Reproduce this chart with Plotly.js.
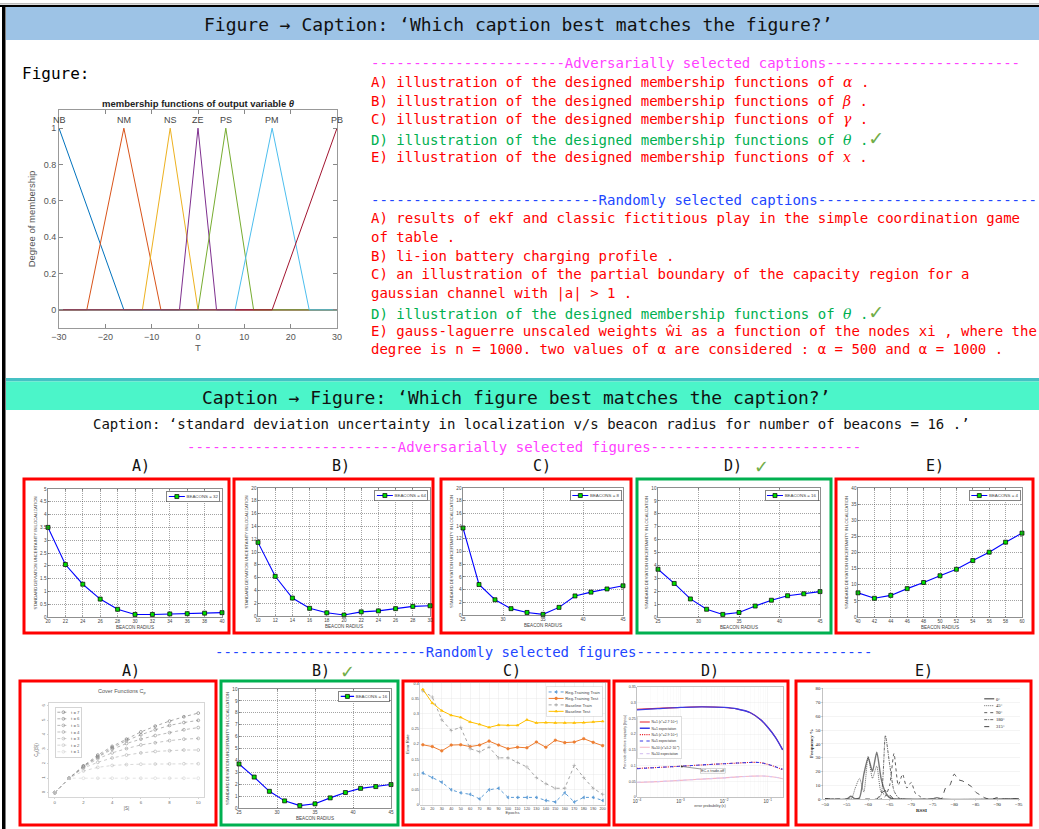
<!DOCTYPE html>
<html><head><meta charset="utf-8">
<script src="https://cdn.plot.ly/plotly-3.0.1.min.js"></script>
<style>html,body{margin:0;padding:0;background:#fff;overflow:hidden}#wrap{position:relative;width:1039px;height:829px}#main{position:absolute;left:0;top:0;width:1039px;height:829px}</style>
</head><body><div id="wrap"><div id="main"></div></div>
<script>
// ---------------- DATA ----------------
// Top figure: membership functions of output variable theta
const mfNames = ['NB','NM','NS','ZE','PS','PM','PB'];
const mfPeaks = [-30,-16,-6,0,6,16,30];
const mfX = [[-30,-16,30],[-30,-24,-16,-8,30],[-30,-12,-6,0,30],[-30,-4,0,4,30],[-30,0,6,12,30],[-30,8,16,24,30],[-30,16,30]];
const mfY = [[1,0,0],[0,0,1,0,0],[0,0,1,0,0],[0,0,1,0,0],[0,0,1,0,0],[0,0,1,0,0],[0,0,1]];

// Captions
const headerTop = 'Figure → Caption: ‘Which caption best matches the figure?’';
const headerMid = 'Caption → Figure: ‘Which figure best matches the caption?’';
const advCapTitle = '-----------------------Adversarially selected captions-----------------------';
const advCaps = ['A) illustration of the designed membership functions of','B) illustration of the designed membership functions of','C) illustration of the designed membership functions of','D) illustration of the designed membership functions of','E) illustration of the designed membership functions of'];
const advSyms = ['α','β','γ','θ','x'];
const advCorrect = 3;
const randCapTitle = '---------------------------Randomly selected captions--------------------------';
const randCaps = ['A) results of ekf and classic fictitious play in the simple coordination game','of table .','B) li-ion battery charging profile .','C) an illustration of the partial boundary of the capacity region for a','gaussian channel with |a| &gt; 1 .','D) illustration of the designed membership functions of','E) gauss-laguerre unscaled weights ŵi as a function of the nodes xi , where the','degree is n = 1000. two values of α are considered : α = 500 and α = 1000 .'];
const randCorrectLine = 5;
const captionText = 'Caption: ‘standard deviation uncertainty in localization v/s beacon radius for number of beacons = 16 .’';
const advFigTitle = '-------------------------Adversarially selected figures-------------------------';
const randFigTitle = '-------------------------Randomly selected figures----------------------------';
const figLabels = ['A)','B)','C)','D)','E)'];

// Beacon figures
const beacA_x = [20,22,24,26,28,30,32,34,36,38,40];
const beacA_y = [3.5,2.05,1.28,0.7,0.3,0.1,0.1,0.12,0.13,0.15,0.17];
const beacB_x = [10,12,14,16,18,20,22,24,26,28,30];
const beacB_y = [11.5,6.2,2.8,1.2,0.5,0.15,0.65,0.8,1.15,1.5,1.6];
const beacC_x = [25,27,29,31,33,35,37,39,41,43,45];
const beacC_y = [13.7,4.8,2.4,1.0,0.4,0.1,1.2,3.0,3.6,4.1,4.6];
const beacD_x = [25,27,29,31,33,35,37,39,41,43,45];
const beacD_y = [3.7,2.6,1.4,0.6,0.2,0.35,0.85,1.3,1.65,1.8,1.97];
const beacE_x = [40,42,44,46,48,50,52,54,56,58,60];
const beacE_y = [7.5,5.8,6.7,8.8,10.7,12.8,14.8,17.5,20.1,23.2,26];

// Random A: cover functions
const coverX = [0,1,2,3,4,5,6,7,8,9,10];
const coverNames = ['t = 7','t = 6','t = 5','t = 4','t = 3','t = 2','t = 1'];
const cover_t7 = [0,1,1.85,2.6,3.2,3.7,4.2,4.6,4.95,5.25,5.5];
const cover_t6 = [0,1,1.83,2.5,3.1,3.6,4.0,4.35,4.65,4.85,5.0];
const cover_t5 = [0,1,1.8,2.45,3.0,3.4,3.7,3.95,4.15,4.35,4.5];
const cover_t4 = [0,1,1.75,2.35,2.75,3.05,3.3,3.45,3.6,3.7,3.75];
const cover_t3 = [0,1,1.7,2.1,2.4,2.6,2.75,2.85,2.9,2.95,2.95];
const cover_t2 = [0,1,1.5,1.75,1.88,1.94,1.97,1.98,1.99,2.0,2.0];
const cover_t1 = [0,1,1,1,1,1,1,1,1,1,1];

// Random C: error rate vs epochs
const epochs = [10,20,30,40,50,60,70,80,90,100,110,120,130,140,150,160,170,180,190,200];
const regTrain = [0.105,0.09,0.075,0.05,0.04,0.035,0.02,0.05,0.055,0.025,0.025,0.025,0.025,0.015,0.01,0.04,0.01,0.025,0.025,0.015];
const regTest = [0.198,0.192,0.178,0.197,0.198,0.192,0.197,0.21,0.197,0.185,0.19,0.188,0.207,0.19,0.213,0.205,0.207,0.218,0.206,0.195];
const baseTrain = [0.375,0.355,0.28,0.245,0.255,0.185,0.175,0.19,0.155,0.155,0.14,0.125,0.09,0.07,0.055,0.055,0.13,0.09,0.055,0.035];
const baseTest = [0.38,0.335,0.31,0.295,0.288,0.273,0.265,0.255,0.263,0.262,0.262,0.28,0.27,0.271,0.27,0.27,0.27,0.271,0.273,0.275];
const errNames = ['Reg-Training Train','Reg-Training Test','Baseline Train','Baseline Test'];

// Random D: effective capacity vs error probability
const epsVals = [1e-4,3e-4,1e-3,3e-3,1e-2,2e-2,4e-2,7e-2,1e-1,1.5e-1,2.2e-1];
const capN1 = [0.279,0.282,0.285,0.287,0.285,0.28,0.268,0.245,0.222,0.19,0.15];
const capN1e = [0.277,0.281,0.285,0.287,0.285,0.28,0.268,0.245,0.222,0.19,0.15];
const capN5 = [0.091,0.094,0.098,0.102,0.106,0.108,0.110,0.109,0.104,0.096,0.087];
const capN5e = [0.090,0.094,0.098,0.102,0.106,0.108,0.110,0.109,0.104,0.096,0.088];
const capN10 = [0.046,0.049,0.053,0.057,0.061,0.064,0.066,0.067,0.066,0.063,0.058];
const capN10e = [0.047,0.049,0.053,0.057,0.061,0.064,0.066,0.067,0.066,0.063,0.058];
const capNames = ['N=1 (ε*=2.7·10<sup>-2</sup>)','N=1 expectation','N=5 (ε*=2.9·10<sup>-2</sup>)','N=5 expectation','N=10 (ε*=5.2·10<sup>-2</sup>)','N=10 expectation'];

// Random E: RSSI histograms
const rssiNames = ['0°','45°','90°','180°','315°'];
const rssi0_x = [-50,-55,-56,-57,-58,-59,-60,-61,-62,-63,-64,-65,-66,-67,-75,-76,-77,-95];
const rssi0_y = [0,0,2,0,1,18,30,20,34,15,5,1,0,0,0,1,0,0];
const rssi45_x = [-50,-56,-57,-58,-59,-60,-61,-62,-63,-64,-65,-66,-95];
const rssi45_y = [0,0,8,15,5,31,15,24,5,3,1,0,0];
const rssi90_x = [-50,-63,-64,-65,-66,-67,-68,-69,-70,-71,-72,-73,-95];
const rssi90_y = [0,0,2,10,33,10,18,8,12,4,2,0,0];
const rssi180_x = [-50,-62,-63,-64,-65,-66,-67,-68,-95];
const rssi180_y = [0,0,3,46,25,6,1,0,0];
const rssi315_x = [-50,-60,-62,-63,-64,-65,-66,-75,-77,-78,-79,-80,-81,-82,-83,-84,-85,-86,-87,-88,-89,-90,-91,-95];
const rssi315_y = [0,0,0,4,6,3,0,0,0,8,10,18,14,13,11,9,5,3,1,0,0,1,0,0];

// ---------------- LAYOUT HELPERS ----------------
const W = 1039, H = 829, S = 3;
const FS = 'Liberation Sans, Arial, sans-serif';
const FM = 'DejaVu Sans Mono, monospace';
const FSR = 'Liberation Serif, Times New Roman, serif';
const X = p => p / W, Y = p => 1 - p / H;
const RED = '#FF0000', GREEN = '#00B050', CHECK = '#70AD47', MAG = '#FF40FF', BLUE = '#2146FF';
const mathSym = s => `<span style="font-family:'DejaVu Serif',serif;font-style:italic">${s}</span>`;
const check = `<span style="color:${CHECK};font-family:'DejaVu Sans',sans-serif;font-size:19px">✓</span>`;

function txt(x, y, text, o) {
  o = o || {};
  return {xref:'paper', yref:'paper', x:X(x), y:Y(y), text:text, showarrow:false,
    xanchor:o.xa || 'left', yanchor:'middle', align:'left',
    font:{family:o.family || FM, size:o.size || 14, color:o.color || '#000'}};
}
function rectShape(b, color, w) {
  return {type:'rect', xref:'paper', yref:'paper', x0:X(b[0]), x1:X(b[1]), y0:Y(b[3]), y1:Y(b[2]), line:{color:color, width:w}, fillcolor:'rgba(0,0,0,0)'};
}
function fillShape(b, color) {
  return {type:'rect', xref:'paper', yref:'paper', x0:X(b[0]), x1:X(b[1]), y0:Y(b[3]), y1:Y(b[2]), line:{width:0}, fillcolor:color, layer:'below'};
}

// ---------------- MAIN (page) ----------------
const mfColors = ['#0072BD','#D95319','#EDB120','#7E2F8E','#77AC30','#4DBEEE','#A2142F'];
const mainTraces = mfNames.map((n, i) => ({type:'scatter', mode:'lines', x:mfX[i], y:mfY[i], name:n,
  line:{color:mfColors[i], width:1}, showlegend:false, hoverinfo:'skip', xaxis:'x', yaxis:'y'}));

const ann = [];
ann.push(txt(518, 24, headerTop, {xa:'center', size:18, color:'#111'}));
ann.push(txt(20, 73, 'Figure:', {size:16}));
ann.push({xref:'paper', yref:'paper', x:X(198), y:Y(103), text:'<b>membership functions of output variable <i>θ</i></b>', showarrow:false, xanchor:'center', yanchor:'middle', font:{family:FS, size:9.5, color:'#222'}});
mfNames.forEach((n, i) => ann.push({xref:'x', yref:'y', x:mfPeaks[i], y:1.045, text:n, showarrow:false, xanchor:'center', yanchor:'middle', font:{family:FS, size:9, color:'#444'}}));

ann.push(txt(369, 63, advCapTitle, {color:MAG}));
const advY = [82, 101, 119, 138, 157];
advCaps.forEach((c, i) => {
  const ok = i === advCorrect;
  ann.push(txt(369, advY[i], `${c} ${mathSym(advSyms[i])} .${ok ? check : ''}`, {color: ok ? GREEN : RED}));
});
ann.push(txt(369, 200, randCapTitle, {color:BLUE}));
const randY = [218, 237, 256, 274, 293, 312, 331, 349];
randCaps.forEach((c, i) => {
  const ok = i === randCorrectLine;
  ann.push(txt(369, randY[i], ok ? `${c} ${mathSym('θ')} .${check}` : c, {color: ok ? GREEN : RED}));
});

ann.push(txt(516, 397, headerMid, {xa:'center', size:18, color:'#111'}));
ann.push(txt(531, 424, captionText, {xa:'center', size:14, color:'#111'}));
ann.push(txt(185, 447, advFigTitle, {color:MAG}));
const row1LabelX = [141, 341, 542, 733, 935];
figLabels.forEach((l, i) => ann.push(txt(row1LabelX[i], 466, l, {xa:'center', size:15, color:'#111'})));
ann.push(txt(761, 466, '✓', {xa:'center', size:18, color:CHECK, family:'DejaVu Sans'}));
ann.push(txt(213, 652, randFigTitle, {color:BLUE}));
const row2LabelX = [131, 321, 512, 710, 924];
figLabels.forEach((l, i) => ann.push(txt(row2LabelX[i], 671, l, {xa:'center', size:15, color:'#111'})));
ann.push(txt(347, 671, '✓', {xa:'center', size:18, color:CHECK, family:'DejaVu Sans'}));

const boxesRow1 = [[24,229,479,633],[234,433,479,633],[441,631,479,633],[637,831,479,633],[836,1033,479,633]];
const boxesRow2 = [[20,216,681,825],[221,398,681,825],[403,609,681,825],[614,788,681,825],[796,1031,681,825]];
const row1Correct = 3, row2Correct = 1;

const shapes = [
  fillShape([0,1039,3,4.5], '#BBBBBB'),
  fillShape([0,1039,5,7], '#000000'),
  fillShape([6,1039,7,40], '#9DC3E6'),
  fillShape([6,1039,378,381.5], '#45C1C4'),
  fillShape([6,1039,381.5,410], '#4BF5C9'),
  fillShape([2,5.5,5,829], '#000000')
];
boxesRow1.forEach((b, i) => shapes.push(rectShape(b, i === row1Correct ? GREEN : RED, 3)));
boxesRow2.forEach((b, i) => shapes.push(rectShape(b, i === row2Correct ? GREEN : RED, 3)));

const mainLayout = {
  width:W, height:H, margin:{l:0, r:0, t:0, b:0, pad:0},
  paper_bgcolor:'#fff', plot_bgcolor:'#fff', showlegend:false,
  xaxis:{domain:[X(59), X(337)], range:[-30,30], dtick:10, tick0:-30, ticks:'inside', ticklen:4, tickcolor:'#888',
    showline:true, mirror:'ticks', linecolor:'#999', linewidth:1, showgrid:false, zeroline:false,
    tickfont:{family:FS, size:9, color:'#555'}, title:{text:'T', font:{family:FS, size:9.5, color:'#555'}, standoff:3}, anchor:'y'},
  yaxis:{domain:[Y(328), Y(110)], range:[-0.1,1.1], tickvals:[0,0.2,0.4,0.6,0.8,1], ticks:'inside', ticklen:4, tickcolor:'#888',
    showline:true, mirror:'ticks', linecolor:'#999', linewidth:1, showgrid:false, zeroline:false,
    tickfont:{family:FS, size:9, color:'#555'}, title:{text:'Degree of membership', font:{family:FS, size:9.5, color:'#555'}, standoff:6}, anchor:'x'},
  annotations:ann, shapes:shapes
};
Plotly.newPlot('main', mainTraces, mainLayout, {staticPlot:true, displayModeBar:false});

// ---------------- SMALL CHARTS (rendered at S x, scaled down) ----------------
function smallChart(id, box, plot, traces, extra) {
  const div = document.createElement('div');
  div.id = id;
  const bw = box[1] - box[0], bh = box[3] - box[2];
  Object.assign(div.style, {position:'absolute', left:box[0] + 'px', top:box[2] + 'px', width:(bw * S) + 'px', height:(bh * S) + 'px',
    transform:'scale(' + (1 / S) + ')', transformOrigin:'0 0'});
  document.getElementById('wrap').appendChild(div);
  const layout = Object.assign({
    width:bw * S, height:bh * S,
    margin:{l:(plot[0] - box[0]) * S, r:(box[1] - plot[1]) * S, t:(plot[2] - box[2]) * S, b:(box[3] - plot[3]) * S, pad:0},
    paper_bgcolor:'rgba(0,0,0,0)', plot_bgcolor:'#fff', showlegend:true
  }, extra);
  Plotly.newPlot(div, traces, layout, {staticPlot:true, displayModeBar:false});
}

function beaconChart(id, box, plot, xs, ys, name, xr, xdt, yr, ydt, legW) {
  const tr = [{type:'scatter', mode:'lines+markers', x:xs, y:ys, name:name, cliponaxis:false,
    line:{color:'#0000FF', width:1.1 * S}, marker:{symbol:'square', size:4 * S, color:'#00DD00', line:{color:'#000', width:0.7 * S}}}];
  const ax = (r, dt) => ({range:r, dtick:dt, tick0:r[0], showgrid:true, gridcolor:'#333', griddash:'dot', gridwidth:0.45 * S,
    showline:true, mirror:'ticks', linecolor:'#444', linewidth:0.6 * S, ticks:'inside', ticklen:1.5 * S, tickwidth:0.5 * S, tickcolor:'#444',
    tickfont:{family:FS, size:4.6 * S, color:'#444'}, zeroline:false, automargin:false});
  const xaxis = ax(xr, xdt); xaxis.title = {text:'BEACON RADIUS', font:{family:FS, size:4.6 * S, color:'#444'}, standoff:1.5 * S};
  const yaxis = ax(yr, ydt); yaxis.title = {text:'STANDARD DEVIATION UNCERTAINTY IN LOCALIZATION', font:{family:FS, size:4.2 * S, color:'#444'}, standoff:2 * S};
  smallChart(id, box, plot, tr, {xaxis:xaxis, yaxis:yaxis,
    legend:{x:0.99, xanchor:'right', y:0.985, yanchor:'top', bgcolor:'#fff', bordercolor:'#333', borderwidth:0.6 * S,
      font:{family:FS, size:4.4 * S, color:'#444'}, itemwidth:legW || 48, tracegroupgap:0}});
}

beaconChart('advA', boxesRow1[0], [48,222,489,617], beacA_x, beacA_y, 'BEACONS = 32', [20,40], 2, [0,5], 0.5);
beaconChart('advB', boxesRow1[1], [258,430,488,616], beacB_x, beacB_y, 'BEACONS = 64', [10,30], 2, [0,20], 2);
beaconChart('advC', boxesRow1[2], [463,623,488,615], beacC_x, beacC_y, 'BEACONS = 8', [25,45], 5, [0,20], 2);
beaconChart('advD', boxesRow1[3], [658,820,488,617], beacD_x, beacD_y, 'BEACONS = 16', [25,45], 5, [0,10], 1);
beaconChart('advE', boxesRow1[4], [858,1022,488,617], beacE_x, beacE_y, 'BEACONS = 4', [40,60], 2, [0,40], 5);
beaconChart('rndB', boxesRow2[1], [239,391,689,808], beacD_x, beacD_y, 'BEACONS = 16', [25,45], 5, [0,10], 1, 40);

// Random A: cover functions
(function(){
  const ys = [cover_t7, cover_t6, cover_t5, cover_t4, cover_t3, cover_t2, cover_t1];
  const grays = ['#6e6e6e','#7c7c7c','#8a8a8a','#9a9a9a','#aaaaaa','#bdbdbd','#d2d2d2'];
  const tr = ys.map((y, i) => ({type:'scatter', mode:'lines+markers', x:coverX, y:y, name:coverNames[i], cliponaxis:false,
    line:{color:grays[i], width:0.6 * S, dash:'dash'}, marker:{symbol:'circle-open', size:2.8 * S, color:grays[i], line:{width:0.6 * S}}}));
  const plot = [49,204,703,797];
  const ax = {showgrid:false, zeroline:false, showline:true, mirror:true, linecolor:'#bbb', linewidth:0.6 * S, ticks:'outside', ticklen:1.5 * S,
    tickwidth:0.5 * S, tickcolor:'#aaa', tickfont:{family:FS, size:4.3 * S, color:'#666'}, automargin:false};
  smallChart('rndA', boxesRow2[0], plot, tr, {
    xaxis:Object.assign({}, ax, {range:[-0.4,10.4], dtick:2, tick0:0, title:{text:'|S|', font:{family:FS, size:4.6 * S, color:'#666'}, standoff:2 * S}}),
    yaxis:Object.assign({}, ax, {range:[-0.3,6.2], dtick:1, tick0:0, tickangle:-90, title:{text:'C<sub>p</sub>(|S|)', font:{family:FS, size:4.6 * S, color:'#666'}, standoff:2 * S}}),
    legend:{x:0.04, xanchor:'left', y:0.96, yanchor:'top', bgcolor:'#fff', bordercolor:'#aaa', borderwidth:0.5 * S,
      font:{family:FS, size:4.3 * S, color:'#666'}, itemwidth:36, tracegroupgap:0},
    annotations:[{xref:'paper', yref:'paper', x:0.47, y:1.12, text:'Cover Functions C<sub>p</sub>', showarrow:false, xanchor:'center', yanchor:'middle',
      font:{family:FS, size:5.5 * S, color:'#555'}}]
  });
})();

// Random C: error rate
(function(){
  const cols = ['#5B9BD5','#ED7D31','#A5A5A5','#FFC000'];
  const dashes = ['dash','solid','dash','solid'];
  const syms = ['triangle-left','circle','cross-thin-open','triangle-up'];
  const ys = [regTrain, regTest, baseTrain, baseTest];
  const tr = ys.map((y, i) => ({type:'scatter', mode:'lines+markers', x:epochs, y:y, name:errNames[i], cliponaxis:false,
    line:{color:cols[i], width:1 * S, dash:dashes[i]}, marker:{symbol:syms[i], size:2.6 * S, color:cols[i], line:{color:cols[i], width:0.6 * S}}}));
  const ax = {showgrid:true, gridcolor:'#e4e4e4', gridwidth:0.4 * S, zeroline:false, showline:true, mirror:true, linecolor:'#999', linewidth:0.5 * S,
    ticks:'', tickfont:{family:FS, size:3.7 * S, color:'#444'}, automargin:false};
  smallChart('rndC', boxesRow2[2], [420,605,683,805], tr, {
    xaxis:Object.assign({}, ax, {range:[7,202.5], dtick:10, tick0:10, title:{text:'Epochs', font:{family:FS, size:4.2 * S, color:'#444'}, standoff:1 * S}}),
    yaxis:Object.assign({}, ax, {range:[0,0.401], dtick:0.05, tick0:0, title:{text:'Error Rate', font:{family:FS, size:4.2 * S, color:'#444'}, standoff:1.5 * S}}),
    legend:{x:0.985, xanchor:'right', y:0.97, yanchor:'top', bgcolor:'#fff', bordercolor:'#bbb', borderwidth:0.4 * S,
      font:{family:FS, size:4.2 * S, color:'#444'}, itemwidth:45, tracegroupgap:0}
  });
})();

// Random D: effective capacity
(function(){
  const ys = [capN1, capN1e, capN5, capN5e, capN10, capN10e];
  const cols = ['#E8202A','#3B3BE6','#E8202A','#3B3BE6','#F5B5C5','#D9C8F2'];
  const dashes = ['solid','solid','dot','dash','solid','dash'];
  const widths = [1.1,1.3,1.1,1.1,1.1,1.1];
  const tr = ys.map((y, i) => ({type:'scatter', mode:'lines', x:epsVals, y:y, name:capNames[i], line:{color:cols[i], width:widths[i] * S, dash:dashes[i], shape:'spline'}}));
  const ax = {showgrid:true, gridcolor:'#e8e8e8', gridwidth:0.4 * S, zeroline:false, showline:true, mirror:true, linecolor:'#888', linewidth:0.5 * S,
    ticks:'', tickfont:{family:FS, size:3.6 * S, color:'#444'}, automargin:false};
  smallChart('rndD', boxesRow2[3], [637,783,687,797], tr, {
    xaxis:Object.assign({}, ax, {type:'log', range:[-4,-0.65], dtick:1, exponentformat:'power', minor:{showgrid:true, gridcolor:'#f1f1f1', gridwidth:0.3 * S},
      title:{text:'error probability (ε)', font:{family:FS, size:3.8 * S, color:'#444'}, standoff:1 * S}}),
    yaxis:Object.assign({}, ax, {range:[0,0.35], dtick:0.05, tick0:0, title:{text:'Per-node effective capacity (bpcu)', font:{family:FS, size:3.6 * S, color:'#444'}, standoff:1.5 * S}}),
    legend:{x:0.005, xanchor:'left', y:0.73, yanchor:'top', bgcolor:'#fff', bordercolor:'#aaa', borderwidth:0.4 * S,
      font:{family:FS, size:3.4 * S, color:'#333'}, itemwidth:30, tracegroupgap:0},
    annotations:[{xref:'x', yref:'y', x:-2.97, y:0.097, ax:31 * S, ay:4 * S, text:'EC-ε trade-off', showarrow:true, arrowhead:6, arrowsize:1, arrowwidth:0.5 * S,
      arrowcolor:'#333', bordercolor:'#999', borderwidth:0.4 * S, bgcolor:'#fff', font:{family:FS, size:3.8 * S, color:'#333'}}]
  });
})();

// Random E: RSSI
(function(){
  const xs = [rssi0_x, rssi45_x, rssi90_x, rssi180_x, rssi315_x];
  const ys = [rssi0_y, rssi45_y, rssi90_y, rssi180_y, rssi315_y];
  const cols = ['#777','#444','#333','#444','#333'];
  const dashes = ['solid','dot','dash','dashdot','longdash'];
  const widths = [1.4,0.8,0.8,0.8,0.9];
  const tr = xs.map((x, i) => ({type:'scatter', mode:'lines', x:x, y:ys[i], name:rssiNames[i], line:{color:cols[i], width:widths[i] * S, dash:dashes[i], shape:'spline', smoothing:0.6}}));
  smallChart('rndE', boxesRow2[4], [823,1020,688,799], tr, {
    xaxis:{range:[-49.5,-95.3], dtick:5, tick0:-50, showgrid:false, zeroline:false, showline:true, linecolor:'#888', linewidth:0.5 * S, ticks:'outside', ticklen:1.2 * S, tickcolor:'#888',
      tickfont:{family:FSR, size:4.8 * S, color:'#222'}, automargin:false, title:{text:'<b>RSSI</b>', font:{family:FSR, size:5 * S, color:'#222'}, standoff:1 * S}},
    yaxis:{range:[0,80.5], dtick:10, tick0:0, showgrid:true, gridcolor:'#e3e3e3', gridwidth:0.4 * S, zeroline:false, showline:true, linecolor:'#888', linewidth:0.5 * S, ticks:'outside', ticklen:1.2 * S, tickcolor:'#888',
      tickfont:{family:FSR, size:4.8 * S, color:'#222'}, automargin:false, title:{text:'<b>Frequency %</b>', font:{family:FSR, size:5 * S, color:'#222'}, standoff:1.5 * S}},
    legend:{x:0.81, xanchor:'left', y:0.95, yanchor:'top', bgcolor:'rgba(255,255,255,0)', borderwidth:0,
      font:{family:FSR, size:4.6 * S, color:'#222'}, itemwidth:30, tracegroupgap:0}
  });
})();
</script>
</body></html>
